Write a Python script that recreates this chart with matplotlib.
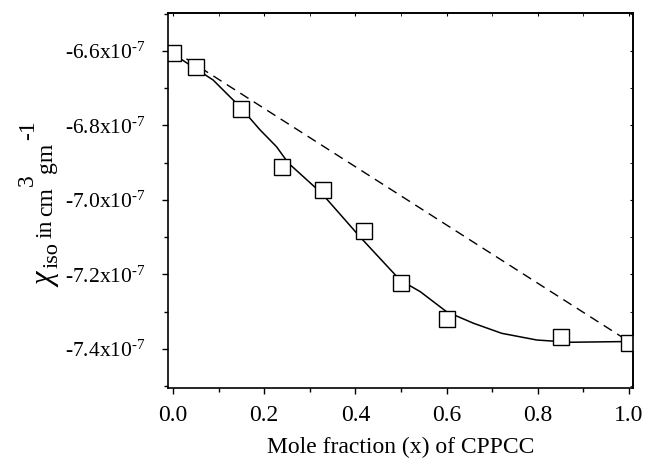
import matplotlib
matplotlib.use("Agg")
import matplotlib.pyplot as plt
from matplotlib import rcParams
from matplotlib.ticker import MultipleLocator, FuncFormatter

rcParams["font.family"] = "serif"
rcParams["font.serif"] = ["Liberation Serif"]
rcParams["mathtext.fontset"] = "custom"
rcParams["mathtext.rm"] = "Liberation Serif"
rcParams["mathtext.it"] = "Liberation Serif:italic"

# measured susceptibility, in units of 1e-7 cm^3 gm^-1
x_meas = [0.0, 0.05, 0.15, 0.24, 0.33, 0.42, 0.50, 0.60, 0.85, 1.0]
chi_meas = [-6.605, -6.642, -6.755, -6.911, -6.974, -7.084, -7.224, -7.320, -7.367, -7.385]

# fitted curve
x_fit = [-0.01, 0.015, 0.088, 0.147, 0.191, 0.227, 0.253, 0.326, 0.410,
         0.498, 0.542, 0.600, 0.659, 0.721, 0.798, 0.871, 1.0]
chi_fit = [-6.599, -6.620, -6.678, -6.750, -6.812, -6.857, -6.901, -6.982, -7.099,
           -7.215, -7.246, -7.300, -7.331, -7.358, -7.376, -7.382, -7.380]

# ideal (additive) line
x_ideal = [0.0, 1.0]
chi_ideal = [-6.598, -7.380]

W, H, DPI = 646, 462, 100
fig = plt.figure(figsize=(W / DPI, H / DPI), dpi=DPI)
ax = fig.add_axes([0.260, 0.160, 0.720, 0.812])

ax.plot(x_ideal, chi_ideal, color="black", lw=1.0, dashes=(7, 4.5))
ax.plot(x_fit, chi_fit, color="black", lw=1.1)
ax.plot(x_meas, chi_meas, linestyle="none", marker="s", markersize=11.5,
        markerfacecolor="white", markeredgecolor="black", markeredgewidth=1.0)

ax.set_xlim(-0.011, 1.009)
ax.set_ylim(-7.505, -6.498)

ax.xaxis.set_major_locator(MultipleLocator(0.2))
ax.xaxis.set_minor_locator(MultipleLocator(0.1))
ax.yaxis.set_major_locator(MultipleLocator(0.2))
ax.yaxis.set_minor_locator(MultipleLocator(0.1))
ax.xaxis.set_major_formatter(FuncFormatter(lambda v, p: f"{v:.1f}"))
ax.yaxis.set_major_formatter(
    FuncFormatter(lambda v, p: f"{v:.1f}x10" + r"$^{\text{-7}}$"))

ax.tick_params(which="both", direction="out", width=1.0)
ax.tick_params(which="major", length=4)
ax.tick_params(which="minor", length=3)
ax.tick_params(axis="x", labelsize=17, pad=8)
ax.tick_params(axis="y", labelsize=15.5, pad=12)

# inward ticks on top and right
top = ax.secondary_xaxis("top")
top.xaxis.set_major_locator(MultipleLocator(0.2))
top.xaxis.set_minor_locator(MultipleLocator(0.1))
top.tick_params(which="both", direction="in", length=2.5, labeltop=False)
right = ax.secondary_yaxis("right")
right.yaxis.set_major_locator(MultipleLocator(0.2))
right.yaxis.set_minor_locator(MultipleLocator(0.1))
right.tick_params(which="both", direction="in", length=2.5, labelright=False)

for s in ax.spines.values():
    s.set_linewidth(1.2)
top.spines["top"].set_linewidth(1.2)
right.spines["right"].set_linewidth(1.2)

ax.set_xlabel("Mole fraction (x) of CPPCC", fontsize=17, labelpad=8)

# y label built from pieces so super/subscripts stay large (Origin style)
# (text, baseline shift in pt, font size, gap after in pt)
pieces = [(r"$\chi$", 0, 22, 0.5), ("iso", -4, 16, 2.5), ("in", 0, 17, 3),
          ("cm", 0, 17, 1), ("3", 14, 17, 1), ("gm", 0, 17, 2), ("-1", 13, 17, 0)]
renderer = fig.canvas.get_renderer()
x_base = 52
y_pos = H - 287
for txt, shift, size, gap in pieces:
    t = fig.text((x_base - shift * DPI / 72) / W, y_pos / H, txt, rotation=90,
                 rotation_mode="anchor", ha="left", va="baseline", fontsize=size)
    bb = t.get_window_extent(renderer)
    y_pos = bb.y1 + gap * DPI / 72

fig.savefig("out.png", dpi=DPI)
